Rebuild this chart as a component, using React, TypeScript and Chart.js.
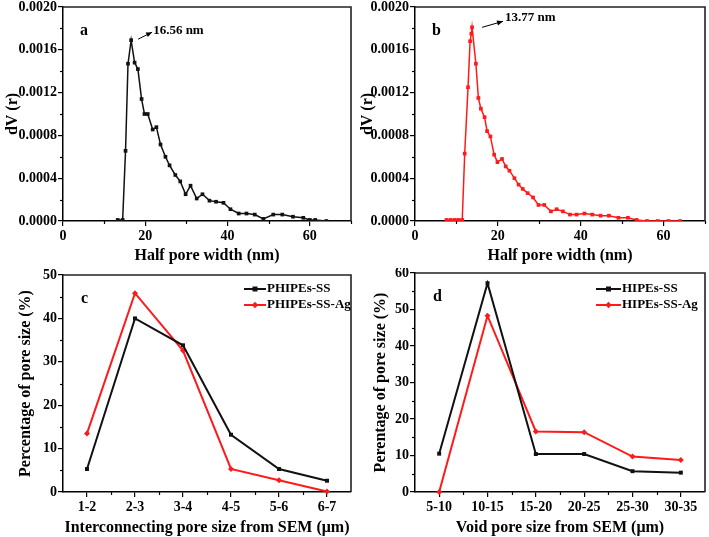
import React, { useEffect, useRef } from "react";
import { Chart, registerables } from "chart.js";

Chart.register(...registerables);

// ---------- data ----------
const aX = [13.3, 14.5, 15.2, 15.8, 16.56, 17.4, 18.2, 19.1, 19.8, 20.6, 21.8, 22.7, 23.7, 24.9, 25.9, 27.3, 28.5, 29.8, 31.0, 32.5, 33.9, 35.6, 37.2, 39.0, 40.7, 42.7, 44.6, 46.6, 48.7, 51.1, 53.3, 55.9, 58.4, 60.0, 61.3, 64.0];
const aY = [0.00001, 0.00001, 0.000656, 0.00147, 0.00169, 0.00148, 0.00142, 0.00114, 0.001, 0.001, 0.000855, 0.000877, 0.000715, 0.0006, 0.00052, 0.00043, 0.00037, 0.00025, 0.00033, 0.00021, 0.00025, 0.00019, 0.00018, 0.00017, 0.00011, 0.00007, 0.00007, 0.00006, 0.00002, 0.00006, 0.00006, 0.00004, 0.00003, 0.00001, 0.00001, 0];

const bX = [7.6, 8.6, 9.6, 10.5, 11.4, 12.0, 12.8, 13.3, 13.6, 13.77, 14.7, 15.3, 15.9, 16.8, 17.4, 18.2, 19.1, 19.9, 21.0, 21.9, 22.8, 24.0, 25.0, 26.0, 27.2, 28.5, 29.8, 31.2, 32.8, 34.2, 35.7, 37.4, 39.0, 40.9, 42.8, 44.8, 46.8, 49.1, 51.4, 53.5, 56.0, 58.6, 61.2, 64.0];
const bY = [0.00001, 0.00001, 0.00001, 0.00001, 0.00001, 0.00063, 0.00125, 0.00168, 0.00175, 0.00181, 0.00147, 0.00115, 0.00105, 0.00097, 0.00084, 0.00079, 0.00062, 0.00055, 0.00058, 0.00051, 0.00047, 0.0004, 0.00034, 0.0003, 0.00026, 0.00022, 0.00015, 0.00015, 0.00009, 0.00011, 0.00009, 0.00006, 0.00006, 0.00007, 0.00006, 0.00005, 0.00005, 0.00003, 0.00003, 0.00001, 0, 0, 0, 0];

const poreXTicks = [0, 20, 40, 60];
const poreYTicks = [0, 0.0004, 0.0008, 0.0012, 0.0016, 0.002];

const cCats = ["1-2", "2-3", "3-4", "4-5", "5-6", "6-7"];
const cSS = [5.3, 40.0, 33.8, 13.2, 5.3, 2.6];
const cAg = [13.5, 45.8, 32.6, 5.3, 2.7, 0.1];
const cYTicks = [0, 10, 20, 30, 40, 50];

const dCats = ["5-10", "10-15", "15-20", "20-25", "25-30", "30-35"];
const dSS = [10.5, 57.2, 10.4, 10.4, 5.7, 5.3];
const dAg = [0, 48.3, 16.6, 16.4, 9.7, 8.8];
const dYTicks = [0, 10, 20, 30, 40, 50, 60];

// ---------- styles ----------
const FONT = "'Liberation Serif', 'Times New Roman', serif";
const BLACK = "#111111";
const RED = "#ff1a1a";
const tickFont = { family: FONT, size: 14, weight: "bold" as const };
const titleFont = { family: FONT, size: 16, weight: "bold" as const };

function midpoints(vals: number[], max: number) {
  const out: number[] = [];
  const step = vals[1] - vals[0];
  for (let v = vals[0] + step / 2; v <= max + 1e-12; v += step) out.push(v);
  return out.filter((v) => !vals.some((m) => Math.abs(m - v) < 1e-12));
}

const framePlugin = {
  id: "frame",
  afterDraw(chart: any, _args: any, opts: any) {
    const { ctx } = chart;
    const { left, right, top, bottom } = chart.chartArea;
    ctx.save();
    ctx.strokeStyle = "#222";
    ctx.lineWidth = 1.6;
    ctx.beginPath();
    ctx.moveTo(left, top);
    ctx.lineTo(right, top);
    ctx.lineTo(right, bottom);
    ctx.stroke();
    ctx.strokeStyle = "#000";
    ctx.lineWidth = 1.2;
    const xs = chart.scales.x;
    const ys = chart.scales.y;
    (opts.minorX || []).forEach((v: number) => {
      const px = Math.round(xs.getPixelForValue(v)) + 0.5;
      if (px < left - 1 || px > right + 1) return;
      ctx.beginPath();
      ctx.moveTo(px, bottom);
      ctx.lineTo(px, bottom + 3);
      ctx.stroke();
    });
    (opts.minorY || []).forEach((v: number) => {
      const py = Math.round(ys.getPixelForValue(v)) + 0.5;
      ctx.beginPath();
      ctx.moveTo(left, py);
      ctx.lineTo(left - 3, py);
      ctx.stroke();
    });
    ctx.fillStyle = "#000";
    ctx.font = `bold 16px ${FONT}`;
    ctx.textBaseline = "middle";
    ctx.textAlign = "left";
    if (opts.letter) ctx.fillText(opts.letter, left + opts.letterDx, top + opts.letterDy);
    if (opts.peak) {
      const p = opts.peak;
      const px = xs.getPixelForValue(p.x);
      const py = ys.getPixelForValue(p.y);
      const x1 = px + p.a1[0], y1 = py + p.a1[1];
      const x2 = px + p.a2[0], y2 = py + p.a2[1];
      ctx.strokeStyle = "#000";
      ctx.lineWidth = 1;
      ctx.beginPath();
      ctx.moveTo(x1, y1);
      ctx.lineTo(x2, y2);
      ctx.stroke();
      const ang = Math.atan2(y2 - y1, x2 - x1);
      ctx.beginPath();
      ctx.moveTo(x2, y2);
      ctx.lineTo(x2 - 6 * Math.cos(ang) + 2.5 * Math.sin(ang), y2 - 6 * Math.sin(ang) - 2.5 * Math.cos(ang));
      ctx.lineTo(x2 - 6 * Math.cos(ang) - 2.5 * Math.sin(ang), y2 - 6 * Math.sin(ang) + 2.5 * Math.cos(ang));
      ctx.closePath();
      ctx.fill();
      ctx.font = `bold 13px ${FONT}`;
      ctx.fillText(p.text, px + p.t[0], py + p.t[1]);
    }
    if (opts.legend) {
      const L = opts.legend;
      ctx.font = `bold 13px ${FONT}`;
      chart.data.datasets.forEach((ds: any, i: number) => {
        const y = top + L.dy + i * L.gap;
        const x0 = right - L.fromRight;
        ctx.strokeStyle = ds.borderColor;
        ctx.lineWidth = 2;
        ctx.beginPath();
        ctx.moveTo(x0, y);
        ctx.lineTo(x0 + L.len, y);
        ctx.stroke();
        ctx.fillStyle = ds.borderColor;
        const mx = x0 + L.len / 2;
        if (ds.pointStyle === "rect") {
          ctx.fillRect(mx - 2.5, y - 2.5, 5, 5);
        } else {
          ctx.beginPath();
          ctx.moveTo(mx, y - 3.2);
          ctx.lineTo(mx + 3.2, y);
          ctx.lineTo(mx, y + 3.2);
          ctx.lineTo(mx - 3.2, y);
          ctx.closePath();
          ctx.fill();
        }
        ctx.fillStyle = "#000";
        ctx.fillText(ds.label, x0 + L.len + 1, y);
      });
    }
    ctx.restore();
  },
};

function yAxis(min: number, max: number, ticks: number[], fmt: (v: number) => string, title: string, width: number, titlePad: number) {
  return {
    type: "linear",
    min,
    max,
    afterBuildTicks: (s: any) => {
      s.ticks = ticks.map((v) => ({ value: v }));
    },
    afterFit: (s: any) => {
      s.width = width;
      s.paddingTop = 0;
      s.paddingBottom = 0;
    },
    ticks: { color: "#000", font: tickFont, padding: 1, autoSkip: false, callback: (v: any) => fmt(Number(v)) },
    grid: { display: true, drawOnChartArea: false, drawTicks: true, tickLength: 5, color: "#000", lineWidth: 1.2 },
    border: { display: true, color: "#000", width: 1.5 },
    title: { display: true, text: title, color: "#000", font: titleFont, padding: { top: titlePad, bottom: titlePad } },
  };
}

function xLinear(min: number, max: number, ticks: number[], title: string, height: number, titlePad: number) {
  return {
    type: "linear",
    min,
    max,
    afterBuildTicks: (s: any) => {
      s.ticks = ticks.map((v) => ({ value: v }));
    },
    afterFit: (s: any) => {
      s.height = height;
      s.paddingLeft = 0;
      s.paddingRight = 0;
    },
    ticks: { color: "#000", font: tickFont, padding: 2, autoSkip: false, maxRotation: 0, callback: (v: any) => String(v) },
    grid: { display: true, drawOnChartArea: false, drawTicks: true, tickLength: 5, color: "#000", lineWidth: 1.2 },
    border: { display: true, color: "#000", width: 1.5 },
    title: { display: true, text: title, color: "#000", font: titleFont, padding: { top: titlePad, bottom: titlePad } },
  };
}

function xCategory(title: string, height: number, titlePad: number) {
  return {
    type: "category",
    offset: true,
    afterFit: (s: any) => {
      s.height = height;
      s.paddingLeft = 0;
      s.paddingRight = 0;
    },
    ticks: { color: "#000", font: tickFont, padding: 2, autoSkip: false, maxRotation: 0 },
    grid: { display: true, offset: false, drawOnChartArea: false, drawTicks: true, tickLength: 5, color: "#000", lineWidth: 1.2 },
    border: { display: true, color: "#000", width: 1.5 },
    title: { display: true, text: title, color: "#000", font: titleFont, padding: { top: titlePad, bottom: titlePad } },
  };
}

function poreConfig(xs: number[], ys: number[], color: string, letter: string, peak: any, pad: any, yWidth: number) {
  return {
    type: "line",
    data: {
      datasets: [
        {
          label: "dV",
          data: xs.map((x, i) => ({ x, y: ys[i] })),
          borderColor: color,
          backgroundColor: color,
          borderWidth: 1.5,
          pointStyle: "rect",
          pointRadius: 2.6,
          pointBorderWidth: 0,
          tension: 0,
        },
      ],
    },
    options: {
      responsive: false,
      animation: false,
      devicePixelRatio: 1,
      layout: { padding: pad },
      plugins: {
        legend: { display: false },
        tooltip: { enabled: false },
        frame: {
          letter,
          letterDx: 17,
          letterDy: 24,
          peak,
          minorX: midpoints(poreXTicks, 70),
          minorY: midpoints(poreYTicks, 0.002),
        },
      },
      scales: {
        x: xLinear(0, 70, poreXTicks, "Half pore width (nm)", 47, 3),
        y: yAxis(0, 0.002, poreYTicks, (v) => v.toFixed(4), "dV (r)", yWidth, 3),
      },
    },
    plugins: [framePlugin],
  };
}

function semConfig(cats: string[], ss: number[], ag: number[], labels: string[], letter: string, yMax: number, yTicks: number[], xTitle: string, yTitle: string, pad: any, yWidth: number, yTitlePad: number, legend: any) {
  return {
    type: "line",
    data: {
      labels: cats,
      datasets: [
        {
          label: labels[0],
          data: ss,
          borderColor: BLACK,
          backgroundColor: BLACK,
          borderWidth: 2,
          pointStyle: "rect",
          pointRadius: 2.8,
          pointBorderWidth: 0,
          tension: 0,
        },
        {
          label: labels[1],
          data: ag,
          borderColor: RED,
          backgroundColor: RED,
          borderWidth: 2,
          pointStyle: "rectRot",
          pointRadius: 3,
          pointBorderWidth: 0,
          tension: 0,
        },
      ],
    },
    options: {
      responsive: false,
      animation: false,
      devicePixelRatio: 1,
      clip: false,
      layout: { padding: pad },
      plugins: {
        legend: { display: false },
        tooltip: { enabled: false },
        frame: {
          letter,
          letterDx: 18,
          letterDy: 24,
          legend,
          minorX: cats.slice(0, -1).map((_, i) => i + 0.5),
          minorY: midpoints(yTicks, yMax),
        },
      },
      scales: {
        x: xCategory(xTitle, 45, 0),
        y: yAxis(0, yMax, yTicks, (v) => String(v), yTitle, yWidth, yTitlePad),
      },
    },
    plugins: [framePlugin],
  };
}

function Panel({ left, top, width, height, make }: any) {
  const ref = useRef<HTMLCanvasElement | null>(null);
  useEffect(() => {
    const chart = new Chart(ref.current as HTMLCanvasElement, make());
    return () => chart.destroy();
  }, []);
  return (
    <canvas
      ref={ref}
      width={width}
      height={height}
      style={{ position: "absolute", left, top, width, height, display: "block" }}
    />
  );
}

export default function App() {
  return (
    <div style={{ position: "fixed", left: 0, top: 0, width: 709, height: 537, background: "#fff", overflow: "hidden" }}>
      <Panel
        left={0}
        top={0}
        width={355}
        height={268}
        make={() =>
          poreConfig(aX, aY, BLACK, "a", { x: 16.56, y: 0.00169, a1: [7, -1], a2: [21, -8], t: [22, -10], text: "16.56 nm" }, { left: 0, right: 3, top: 7, bottom: 0 }, 63)
        }
      />
      <Panel
        left={355}
        top={0}
        width={354}
        height={268}
        make={() =>
          poreConfig(bX, bY, RED, "b", { x: 13.77, y: 0.00181, a1: [10, 0], a2: [31, -6], t: [33, -10], text: "13.77 nm" }, { left: 0, right: 4, top: 7, bottom: 0 }, 60)
        }
      />
      <Panel
        left={0}
        top={268}
        width={355}
        height={269}
        make={() =>
          semConfig(cCats, cSS, cAg, ["PHIPEs-SS", "PHIPEs-SS-Ag"], "c", 50, cYTicks, "Interconnecting pore size from SEM (\u03bcm)", "Percentage of pore size (%)", { left: 0, right: 3, top: 7, bottom: 0 }, 63, 16, { fromRight: 107, len: 22, dy: 14, gap: 16 })
        }
      />
      <Panel
        left={355}
        top={268}
        width={354}
        height={269}
        make={() =>
          semConfig(dCats, dSS, dAg, ["HIPEs-SS", "HIPEs-SS-Ag"], "d", 60, dYTicks, "Void pore size from SEM (\u03bcm)", "Perentage of pore size (%)", { left: 0, right: 3, top: 5, bottom: 0 }, 60, 16, { fromRight: 109, len: 25, dy: 16, gap: 16 })
        }
      />
    </div>
  );
}
